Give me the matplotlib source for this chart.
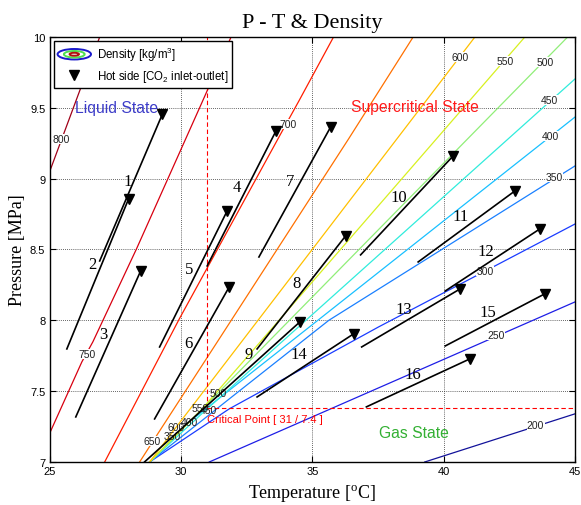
import matplotlib
matplotlib.use("Agg")
import matplotlib.pyplot as plt
from matplotlib.lines import Line2D
from matplotlib.patches import Ellipse, Patch
from matplotlib.legend_handler import HandlerBase

plt.rcParams['font.family'] = ['Liberation Sans', 'DejaVu Sans']
SERIF = ['Liberation Serif', 'DejaVu Serif']

# density isolines [kg/m3], vertices (T degC, P MPa)
levels = [200, 250, 300, 350, 400, 450, 500, 550, 600, 650, 700, 750, 800]
iso_T = [
    [45.0, 39.28],
    [45.0, 31.08],
    [45.0, 37.52, 31.84, 28.81],
    [45.0, 35.63, 31.84, 28.81],
    [45.0, 30.32, 28.81],
    [45.0, 30.97, 28.81],
    [44.72, 31.42, 28.81],
    [43.09, 30.81, 28.81],
    [41.19, 29.83, 28.81],
    [38.84, 36.38, 31.46, 29.19, 28.43],
    [35.81, 34.49, 33.84, 29.94, 27.10],
    [31.91, 30.81, 28.31, 26.65, 26.23, 25.0],
    [26.91, 25.0],
]
iso_P = [
    [7.34, 7.0],
    [8.13, 7.0],
    [8.68, 7.953, 7.375, 7.0],
    [9.09, 8.0, 7.445, 7.0],
    [9.435, 7.283, 7.0],
    [9.704, 7.37, 7.0],
    [10.0, 7.488, 7.0],
    [10.0, 7.375, 7.0],
    [10.0, 7.248, 7.0],
    [10.0, 9.28, 7.869, 7.219, 7.0],
    [10.0, 9.548, 9.33, 8.01, 7.0],
    [10.0, 9.541, 8.504, 7.848, 7.706, 7.20],
    [10.0, 9.047],
]
iso_colors = ['#12129a', '#1e1ee6', '#1a3cff', '#1a80ff', '#18c0ff', '#30ecdc',
              '#90ee78', '#d8f020', '#ffc000', '#ff7000', '#ff1e00', '#d80010', '#a00018']

# contour labels
lab_level = [800, 750, 700, 650, 600, 550, 500, 450, 400, 350, 300, 250, 200,
             600, 550, 500, 450, 400, 350]
lab_T = [25.44, 26.42, 34.07, 28.92, 40.63, 42.33, 43.88, 44.03, 44.07, 44.22, 41.57, 41.99, 43.50,
         29.83, 30.72, 31.42, 31.05, 30.32, 29.68]
lab_P = [9.28, 7.763, 9.386, 7.149, 9.859, 9.831, 9.824, 9.555, 9.301, 9.012, 8.349, 7.897, 7.262,
         7.248, 7.38, 7.488, 7.37, 7.283, 7.184]

# hot side CO2 inlet -> outlet states
arr_T0 = [26.91, 25.66, 26.00, 31.00, 29.19, 29.00, 32.97, 32.90, 28.62, 36.84, 39.03, 40.06, 36.88, 32.90, 40.06, 37.06]
arr_P0 = [8.419, 7.798, 7.318, 8.384, 7.812, 7.304, 8.447, 7.798, 7.001, 8.462, 8.412, 8.207, 7.812, 7.459, 7.819, 7.389]
arr_T1 = [29.30, 28.01, 28.47, 33.62, 31.76, 31.84, 35.70, 36.27, 34.53, 40.36, 42.71, 43.66, 40.63, 36.57, 43.84, 41.00]
arr_P1 = [9.457, 8.857, 8.349, 9.337, 8.772, 8.236, 9.365, 8.596, 7.989, 9.160, 8.913, 8.645, 8.222, 7.904, 8.186, 7.728]
arr_lab_T = [27.97, 26.65, 27.03, 32.14, 30.32, 30.28, 34.15, 34.41, 32.56, 38.28, 40.63, 41.61, 38.50, 34.49, 41.69, 38.84]
arr_lab_P = [8.984, 8.398, 7.904, 8.941, 8.363, 7.841, 8.984, 8.264, 7.763, 8.871, 8.737, 8.490, 8.080, 7.763, 8.059, 7.622]

T_crit, P_crit = 31.0, 7.38
x_ticks = [25, 30, 35, 40, 45]
y_ticks = [7, 7.5, 8, 8.5, 9, 9.5, 10]
y_tick_labels = ['7', '7.5', '8', '8.5', '9', '9.5', '10']


class HandlerRings(HandlerBase):
    def create_artists(self, legend, orig_handle, xdescent, ydescent,
                       width, height, fontsize, trans):
        cx = width / 2 - xdescent
        cy = height / 2 - ydescent
        arts = []
        for f, c in zip((1.0, 0.62, 0.28), ('#1a1acc', '#50e050', '#b01010')):
            arts.append(Ellipse((cx, cy), width * f, height * 1.3 * f, fill=False,
                                edgecolor=c, lw=1.4, transform=trans))
        return arts


fig = plt.figure(figsize=(5.81, 5.06), dpi=100)
ax = fig.add_axes([0.0852, 0.085, 0.9045, 0.8399])

for T, P, c in zip(iso_T, iso_P, iso_colors):
    ax.plot(T, P, color=c, lw=0.9, zorder=2)

for lev, t, p in zip(lab_level, lab_T, lab_P):
    near_cp = p < 7.5 and 29.5 < t < 32
    box = None if near_cp else dict(facecolor='white', edgecolor='none', pad=0.2)
    ax.text(t, p, str(lev), fontsize=7.5, ha='center', va='center', color='#222222',
            bbox=box, zorder=3)

# critical point markers
ax.plot([T_crit, T_crit], [P_crit, 10], color='red', lw=0.8, ls=(0, (4, 2.5)), zorder=2)
ax.plot([T_crit, 45], [P_crit, P_crit], color='red', lw=0.8, ls=(0, (4, 2.5)), zorder=2)
ax.text(T_crit, P_crit - 0.08, 'Critical Point [ 31 / 7.4 ]', color='red', fontsize=8,
        ha='left', va='center', zorder=3)

for i in range(len(arr_T0)):
    ax.plot([arr_T0[i], arr_T1[i]], [arr_P0[i], arr_P1[i]], color='black', lw=1.2, zorder=4)
    ax.plot(arr_T1[i], arr_P1[i], marker='v', color='black', ms=6.5, ls='none', zorder=5)
    ax.text(arr_lab_T[i], arr_lab_P[i], str(i + 1), fontsize=12, family=SERIF,
            ha='center', va='center', zorder=5)

ax.text(27.56, 9.499, 'Liquid State', color='#3c3cc8', fontsize=11.3, ha='center', va='center')
ax.text(38.92, 9.506, 'Supercritical State', color='#ff1a1a', fontsize=11.3, ha='center', va='center')
ax.text(38.88, 7.205, 'Gas State', color='#33b033', fontsize=11.3, ha='center', va='center')

ax.set_xlim(25, 45)
ax.set_ylim(7, 10)
ax.set_xticks(x_ticks)
ax.set_yticks(y_ticks)
ax.set_yticklabels(y_tick_labels)
ax.tick_params(direction='in', length=4, width=0.8, top=True, right=True, labelsize=8, pad=3)
ax.grid(True, color='#333333', ls=(0, (1, 1.5)), lw=0.6)
ax.set_axisbelow(True)
for s in ax.spines.values():
    s.set_linewidth(1.0)

ax.set_title('P - T & Density', fontsize=16, family=SERIF, pad=7)
ax.set_xlabel(r'Temperature [$\mathregular{^o}$C]', fontsize=13, family=SERIF, labelpad=4)
ax.set_ylabel('Pressure [MPa]', fontsize=13, family=SERIF, labelpad=3)

rings = Patch()
tri = Line2D([], [], marker='v', color='black', ls='none', ms=6.5)
ax.legend([rings, tri], [r'Density [kg/m$\mathregular{^3}$]', r'Hot side [CO$\mathregular{_2}$ inlet-outlet]'],
          handler_map={rings: HandlerRings()}, loc='upper left', fontsize=8.3,
          fancybox=False, edgecolor='black', framealpha=1, handlelength=2.9,
          handletextpad=0.5, labelspacing=0.45, borderaxespad=0.35, borderpad=0.35)

fig.savefig('out.png', dpi=100)
